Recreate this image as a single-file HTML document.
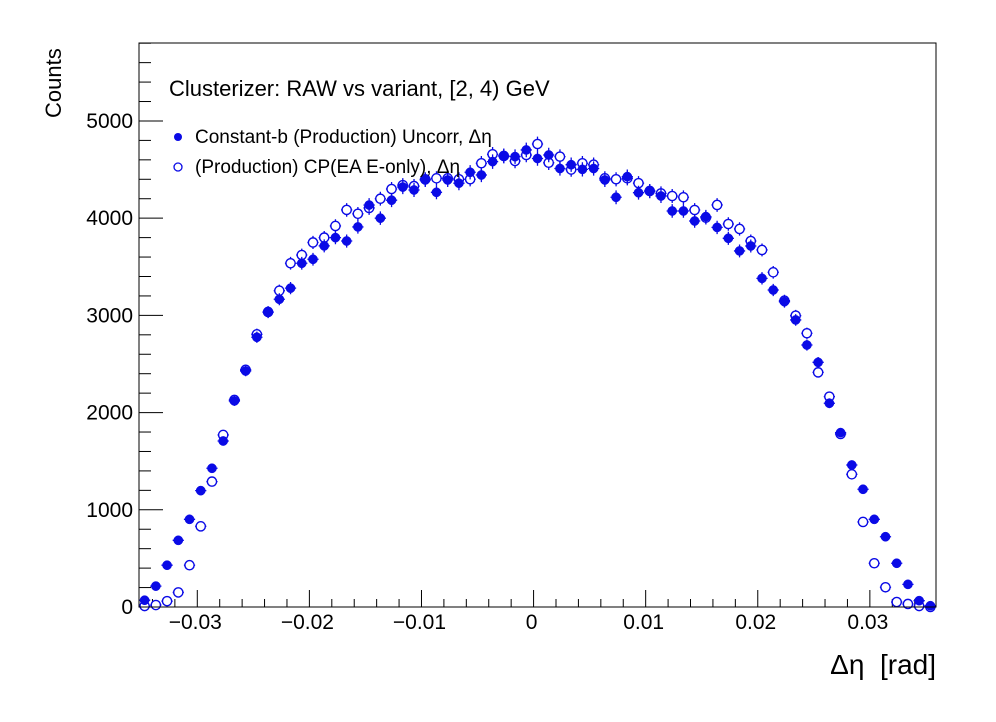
<!DOCTYPE html>
<html><head><meta charset="utf-8"><style>
html,body{margin:0;padding:0;background:#fff;}
svg{display:block;font-family:"Liberation Sans",Arial,sans-serif;}
</style></head><body>
<svg id="chart" width="996" height="722" viewBox="0 0 996 722" xmlns="http://www.w3.org/2000/svg">
<rect x="0" y="0" width="996" height="722" fill="#fff"/>
<g id="grid"></g>
<g id="marks"></g>
<rect x="139" y="43" width="797" height="564" fill="none" stroke="#000" stroke-width="1"/>
<text x="169" y="96" font-size="22">Clusterizer: RAW vs variant, [2, 4) GeV</text>
<g>
<circle cx="178" cy="137" r="4" fill="#0a0ae6"/>
<text x="195" y="143" font-size="19">Constant-b (Production) Uncorr, Δη</text>
<circle cx="178" cy="167" r="4" fill="none" stroke="#0a0ae6" stroke-width="1.3"/>
<text x="195" y="173" font-size="19">(Production) CP(EA E-only), Δη</text>
</g>
<text transform="translate(61,118) rotate(-90)" font-size="22">Counts</text>
<text x="936" y="674" font-size="28" text-anchor="end" xml:space="preserve">Δη  [rad]</text>
</svg>
<script>
const xTicks=[-0.03,-0.02,-0.01,0,0.01,0.02,0.03];
const xTickLabels=["−0.03","−0.02","−0.01","0","0.01","0.02","0.03"];
const yTicks=[0,1000,2000,3000,4000,5000];
const yTickLabels=["0","1000","2000","3000","4000","5000"];
const seriesFilled=[70,215,430,686,902,1197,1427,1708,2120,2428,2775,3032,3166,3280,3536,3577,3715,3800,3765,3910,4135,4000,4185,4320,4290,4393,4266,4393,4360,4472,4444,4582,4640,4633,4702,4614,4650,4511,4550,4502,4511,4393,4215,4427,4262,4277,4228,4074,4074,3971,4016,3905,3793,3663,3714,3381,3261,3141,2953,2695,2517,2096,1794,1461,1211,902,723,450,233,65,13];
const seriesOpen=[10,20,60,150,430,830,1290,1770,2130,2440,2805,3035,3254,3536,3621,3750,3800,3920,4085,4045,4105,4200,4300,4340,4330,4400,4410,4410,4400,4400,4565,4657,4640,4588,4650,4763,4570,4633,4500,4565,4550,4410,4400,4410,4360,4280,4255,4228,4215,4084,4005,4136,3940,3889,3765,3673,3443,3151,2997,2816,2414,2164,1780,1365,875,450,203,51,31,10,0];
const XMIN=-0.0352,XMAX=0.0359,YMIN=0,YMAX=5802;
const PL=139,PR=936,PT=43,PB=607;
const NB=seriesFilled.length;
const BW=(XMAX-XMIN)/NB;
function sx(v){return PL+(v-XMIN)/(XMAX-XMIN)*(PR-PL);}
function sy(v){return PB-(v-YMIN)/(YMAX-YMIN)*(PB-PT);}
const NS="http://www.w3.org/2000/svg";
function mk(tag,attrs,parent){const e=document.createElementNS(NS,tag);for(const k in attrs)e.setAttribute(k,attrs[k]);parent.appendChild(e);return e;}
const grid=document.getElementById('grid'),marks=document.getElementById('marks');
for(let v=0;v<=YMAX;v+=200){
  const major=v%1000===0;
  const t=mk('line',{x1:PL,x2:PL+(major?24:12),y1:sy(v),y2:sy(v),stroke:'#000','stroke-width':1},grid);
  
  
}
yTicks.forEach((v,i)=>{
  const t=mk('text',{x:133,y:sy(v)+7,'font-size':21,'text-anchor':'end'},grid);
  t.textContent=yTickLabels[i];
  
  
});
for(let k=-18;k<=18;k++){
  const v=k*0.002;if(v<XMIN||v>XMAX)continue;
  const major=k%5===0;
  const t=mk('line',{x1:sx(v),x2:sx(v),y1:PB,y2:PB-(major?17:8),stroke:'#000','stroke-width':1},grid);
  
  
}
xTicks.forEach((v,i)=>{
  const t=mk('text',{x:sx(v)-2,y:629,'font-size':21,'text-anchor':'middle'},grid);
  t.textContent=xTickLabels[i];
  
  
});
const C='#0a0ae6';
function drawSeries(vals,filled,name){
  const g=mk('g',{},marks);
  
  
  vals.forEach((v,i)=>{
    const xc=XMIN+(i+0.5)*BW;
    const px=sx(xc),py=sy(v);
    const err=Math.sqrt(Math.max(v,0))*1.1;
    const hw=sx(xc+BW/2)-px;
    const eb=mk('path',{d:`M${px-hw},${py}H${px+hw}M${px},${sy(v+err)}V${sy(Math.max(v-err,0))}`,stroke:C,'stroke-width':1.3,fill:'none'},g);
    
    
    const c=mk('circle',{cx:px,cy:py,r:4.6,fill:filled?C:'#fff',stroke:C,'stroke-width':filled?0.5:1.4},g);
    
    
  });
}
drawSeries(seriesOpen,false,'series-cp-ea-open');
drawSeries(seriesFilled,true,'series-constant-b-filled');
</script>
</body></html>
